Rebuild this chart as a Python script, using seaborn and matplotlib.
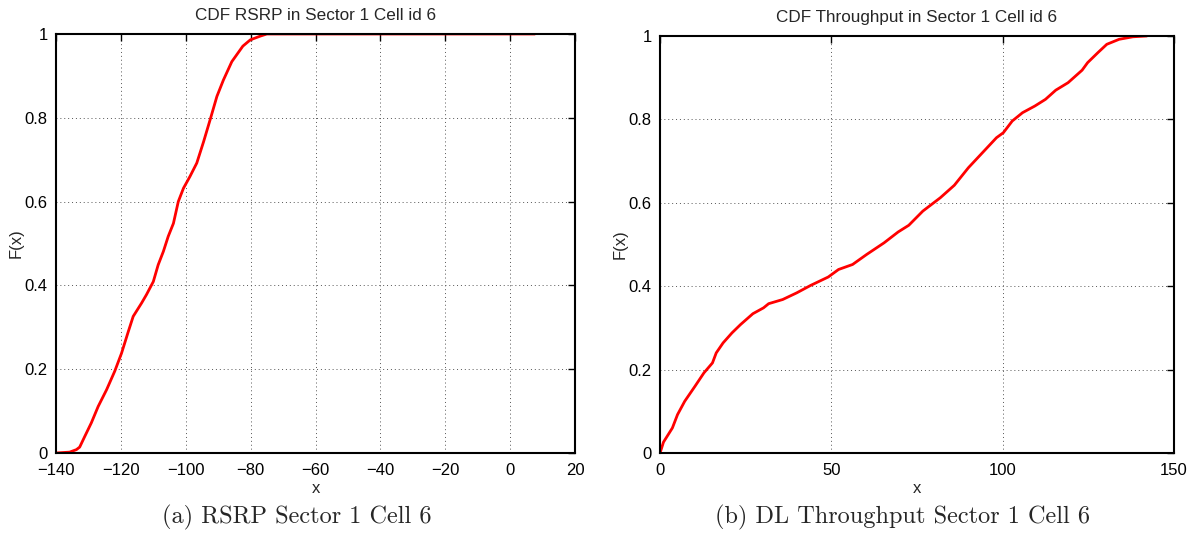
import matplotlib
matplotlib.use("Agg")
import matplotlib.pyplot as plt
import seaborn as sns
import pandas as pd

# Empirical CDF of RSRP (dBm) for sector 1, cell 6
rsrp_x = [-139.9, -135.8, -133.7, -132.7, -131.1, -129.1, -127.0, -124.4, -121.9,
          -119.8, -117.7, -116.2, -113.6, -112.1, -110.0, -108.5, -106.9, -105.4,
          -103.8, -102.3, -100.7, -98.7, -96.6, -94.5, -92.5, -90.4, -88.4, -85.8,
          -82.4, -80.1, -77.0, -75.0, 7.6]
rsrp_f = [0.0, 0.002, 0.008, 0.014, 0.04, 0.072, 0.111, 0.151, 0.195,
          0.238, 0.29, 0.326, 0.358, 0.378, 0.409, 0.449, 0.481, 0.517,
          0.548, 0.6, 0.632, 0.66, 0.692, 0.743, 0.795, 0.851, 0.89, 0.934,
          0.971, 0.986, 0.995, 1.0, 1.0]

# Empirical CDF of DL throughput for sector 1, cell 6
thr_x = [0.0, 1.0, 3.6, 5.1, 7.2, 10.2, 12.8, 15.3, 16.4, 18.4, 21.0, 23.5, 27.1,
         30.2, 31.7, 35.8, 39.9, 44.0, 49.1, 52.1, 56.2, 60.3, 65.4, 69.5, 72.6,
         76.7, 81.8, 85.9, 90.0, 94.1, 98.2, 100.2, 102.8, 105.8, 109.4, 112.5,
         115.5, 119.1, 123.2, 124.8, 127.8, 130.4, 134.0, 138.0, 142.1]
thr_f = [0.0, 0.026, 0.06, 0.092, 0.124, 0.16, 0.192, 0.216, 0.24, 0.264, 0.288,
         0.308, 0.334, 0.348, 0.358, 0.368, 0.384, 0.402, 0.422, 0.44, 0.452,
         0.476, 0.504, 0.53, 0.546, 0.58, 0.612, 0.642, 0.684, 0.72, 0.756,
         0.768, 0.796, 0.816, 0.832, 0.848, 0.87, 0.888, 0.918, 0.936, 0.96,
         0.98, 0.992, 0.998, 1.0]

titles = ["CDF RSRP in Sector 1 Cell id 6", "CDF Throughput in Sector 1 Cell id 6"]
captions = ["(a) RSRP Sector 1 Cell 6", "(b) DL Throughput Sector 1 Cell 6"]
rsrp_ticks = [-140, -120, -100, -80, -60, -40, -20, 0, 20]
thr_ticks = [0, 50, 100, 150]
y_ticks = [0, 0.2, 0.4, 0.6, 0.8, 1]
y_ticklabels = ["0", "0.2", "0.4", "0.6", "0.8", "1"]

sns.set_theme(style="white")
plt.rcParams["font.family"] = ["Liberation Sans", "DejaVu Sans"]

fig = plt.figure(figsize=(11.99, 5.36), dpi=100)
ax1 = fig.add_axes([0.0467, 0.1549, 0.4329, 0.7817])
ax2 = fig.add_axes([0.5505, 0.1549, 0.4286, 0.7780])

# caption centres (figure fraction) under each sub-figure
caption_x = [0.2477, 0.7523]

panels = [
    (ax1, pd.DataFrame({"x": rsrp_x, "F": rsrp_f}), rsrp_ticks, (-140, 20)),
    (ax2, pd.DataFrame({"x": thr_x, "F": thr_f}), thr_ticks, (0, 150)),
]

for i, (ax, df, xt, xl) in enumerate(panels):
    sns.lineplot(data=df, x="x", y="F", ax=ax, color="#ff0000", linewidth=2.0,
                 estimator=None, sort=False)
    ax.set_xlim(*xl)
    ax.set_ylim(0, 1)
    ax.set_xticks(xt)
    ax.set_xticklabels([str(v).replace("-", "\u2212") for v in xt])
    ax.set_yticks(y_ticks)
    ax.set_yticklabels(y_ticklabels)
    ax.grid(True, linestyle=(0, (1, 3)), color="#555555", linewidth=0.7)
    ax.tick_params(direction="in", length=5, width=1.0, top=True, right=True,
                   labelsize=12, colors="black")
    ax.tick_params(axis="x", pad=7.5)
    ax.tick_params(axis="y", pad=6)
    for s in ax.spines.values():
        s.set_color("black")
        s.set_linewidth(1.5)
    ax.set_xlabel("x", fontsize=12, labelpad=2)
    ax.set_ylabel("F(x)", fontsize=12, labelpad=1)
    ax.set_title(titles[i], fontsize=12.3, pad=10)
    fig.text(caption_x[i], 0.034, captions[i], ha="center", va="center",
             fontsize=17.5, family=["cmr10", "DejaVu Serif"])

fig.savefig("out.png", dpi=100)
